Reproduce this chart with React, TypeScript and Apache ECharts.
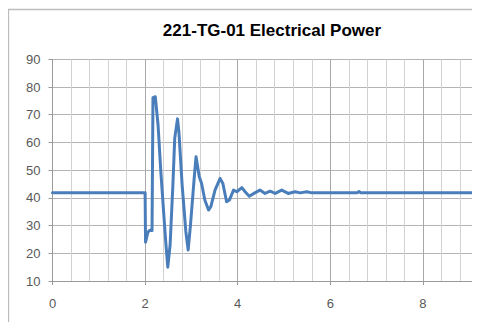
import React, { useEffect, useRef } from "react";
import * as echarts from "echarts";

const chartTitle = "221-TG-01 Electrical Power";
const timeValues = [
  0, 2.0, 2.01, 2.06, 2.1, 2.15, 2.17, 2.22, 2.28, 2.34, 2.39, 2.44, 2.49, 2.54,
  2.6, 2.64, 2.7, 2.73, 2.8, 2.88, 2.93, 2.98, 3.06, 3.1, 3.17, 3.22, 3.29,
  3.37, 3.42, 3.51, 3.62, 3.68, 3.76, 3.82, 3.91, 3.98, 4.09, 4.16, 4.25, 4.37,
  4.48, 4.59, 4.7, 4.81, 4.95, 5.09, 5.24, 5.35, 5.49, 5.6, 6.58, 6.62, 6.66, 10,
];
const powerValues = [
  41.8, 41.8, 24.0, 27.6, 28.3, 28.2, 76.2, 76.5, 66.3, 49.4, 37.4, 25.4, 15.0,
  23.0, 44.6, 61.5, 68.5, 63.9, 44.6, 27.8, 21.2, 30.2, 47.0, 54.8, 47.6, 45.2,
  39.2, 35.6, 36.8, 42.8, 47.0, 45.2, 38.6, 39.2, 42.8, 42.2, 43.7, 42.2, 40.6,
  41.8, 42.8, 41.6, 42.4, 41.6, 42.8, 41.6, 42.2, 41.8, 42.2, 41.8, 41.8, 42.3,
  41.8, 41.8,
];
const yTicks = [10, 20, 30, 40, 50, 60, 70, 80, 90];
const xTicks = [0, 2, 4, 6, 8, 10];

export default function App() {
  const ref = useRef<HTMLDivElement>(null);
  useEffect(() => {
    if (!ref.current) return;
    const chart = echarts.init(ref.current, null, { renderer: "svg" });
    const data = timeValues.map((t, i) => [t, powerValues[i]]);
    chart.setOption({
      animation: false,
      backgroundColor: "#ffffff",
      textStyle: { fontFamily: "Liberation Sans, Arial, sans-serif" },
      graphic: [
        {
          type: "rect",
          shape: { x: 0.5, y: 1.5, width: 600, height: 400 },
          style: { fill: "none", stroke: "#bdbdbd", lineWidth: 1.3 },
          silent: true,
        },
        {
          type: "text",
          x: 264,
          y: 22,
          style: {
            text: chartTitle,
            fontSize: 17,
            fontWeight: "bold",
            fontFamily: "Liberation Sans, Arial, sans-serif",
            fill: "#000000",
            textAlign: "center",
            textVerticalAlign: "middle",
          },
        },
      ],
      grid: { left: 44.5, top: 51.3, right: 52.5, bottom: 41 },
      xAxis: {
        type: "value",
        min: xTicks[0],
        max: xTicks[xTicks.length - 1],
        interval: 2,
        axisLine: { show: true, lineStyle: { color: "#9a9a9a", width: 1 } },
        axisTick: { show: true, length: 4, lineStyle: { color: "#9a9a9a" } },
        axisLabel: { color: "#595959", fontSize: 13, margin: 16, showMaxLabel: false },
        splitLine: { show: true, lineStyle: { color: "#a8a8a8", width: 1 } },
        minorTick: { show: false, splitNumber: 5 },
        minorSplitLine: { show: true, lineStyle: { color: "#d2d2d2", width: 1 } },
      },
      yAxis: {
        type: "value",
        min: yTicks[0],
        max: yTicks[yTicks.length - 1],
        interval: 10,
        axisLine: { show: true, lineStyle: { color: "#9a9a9a", width: 1 } },
        axisTick: { show: true, length: 4, lineStyle: { color: "#9a9a9a" } },
        axisLabel: { color: "#595959", fontSize: 13, margin: 12 },
        splitLine: { show: true, lineStyle: { color: "#b4b4b4", width: 1 } },
      },
      series: [
        {
          type: "line",
          data,
          showSymbol: false,
          smooth: false,
          lineStyle: { color: "#4a7ebb", width: 3, join: "round", cap: "round" },
          itemStyle: { color: "#4a7ebb" },
        },
      ],
    });
    return () => chart.dispose();
  }, []);
  return (
    <div style={{ width: 472, height: 314, overflow: "hidden" }}>
      <div ref={ref} style={{ width: 560, height: 314 }} />
    </div>
  );
}
